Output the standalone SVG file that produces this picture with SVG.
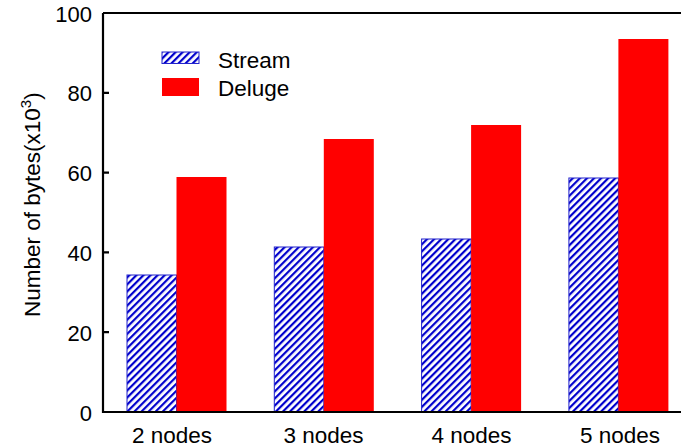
<svg xmlns="http://www.w3.org/2000/svg" width="681" height="448" viewBox="0 0 681 448">
<style>
text{font-family:"Liberation Sans",Arial,sans-serif;fill:#000}
.tick{font-size:22px;text-anchor:end}
.xl{font-size:22.5px;text-anchor:middle}
.lg{font-size:22.5px}
.stream{fill:url(#hatch);stroke:#2222cc;stroke-width:1}
.deluge{fill:#ff0000}
.axis{fill:none;stroke:#000;stroke-width:2.2}
</style>
<defs>
<pattern id="hatch" patternUnits="userSpaceOnUse" width="5" height="5" patternTransform="rotate(45)">
<rect width="5" height="5" fill="#fff"/>
<rect x="0" y="0" width="2.2" height="5" fill="#0000cc"/>
</pattern>
</defs>
<g id="bars">
<g id="g2nodes">
<rect class="stream" x="127" y="275" width="49.5" height="137"/>
<rect class="deluge" x="176.5" y="177" width="50" height="235"/>
</g>
<g id="g3nodes">
<rect class="stream" x="274.3" y="247" width="49.5" height="165"/>
<rect class="deluge" x="323.8" y="139" width="50" height="273"/>
</g>
<g id="g4nodes">
<rect class="stream" x="421.6" y="239" width="49.5" height="173"/>
<rect class="deluge" x="471.1" y="125" width="50" height="287"/>
</g>
<g id="g5nodes">
<rect class="stream" x="568.9" y="178" width="49.5" height="234"/>
<rect class="deluge" x="618.4" y="39" width="50" height="373"/>
</g>
</g>
<g id="axes">
<path class="axis" d="M103,13 H681 M103,13 V412 H681"/>
<path class="axis" d="M103,332.2 h6 M103,252.4 h6 M103,172.6 h6 M103,92.8 h6"/>
<text class="tick" x="92" y="420.5">0</text>
<text class="tick" x="92" y="340.5">20</text>
<text class="tick" x="92" y="260.5">40</text>
<text class="tick" x="92" y="181">60</text>
<text class="tick" x="92" y="101">80</text>
<text class="tick" x="92" y="21.5">100</text>
<text class="xl" x="172" y="443">2 nodes</text>
<text class="xl" x="323.5" y="443">3 nodes</text>
<text class="xl" x="471.5" y="443">4 nodes</text>
<text class="xl" x="620" y="443">5 nodes</text>
<text transform="translate(39.5,317) rotate(-90)" font-size="22.5">Number of bytes(x10<tspan font-size="15" dy="-9">3</tspan><tspan dy="9">)</tspan></text>
</g>
<g id="legend">
<rect class="stream" x="162" y="52" width="37" height="11.5"/>
<rect class="deluge" x="162" y="78" width="37" height="18"/>
<text class="lg" x="218" y="68">Stream</text>
<text class="lg" x="218" y="96">Deluge</text>
</g>
</svg>
